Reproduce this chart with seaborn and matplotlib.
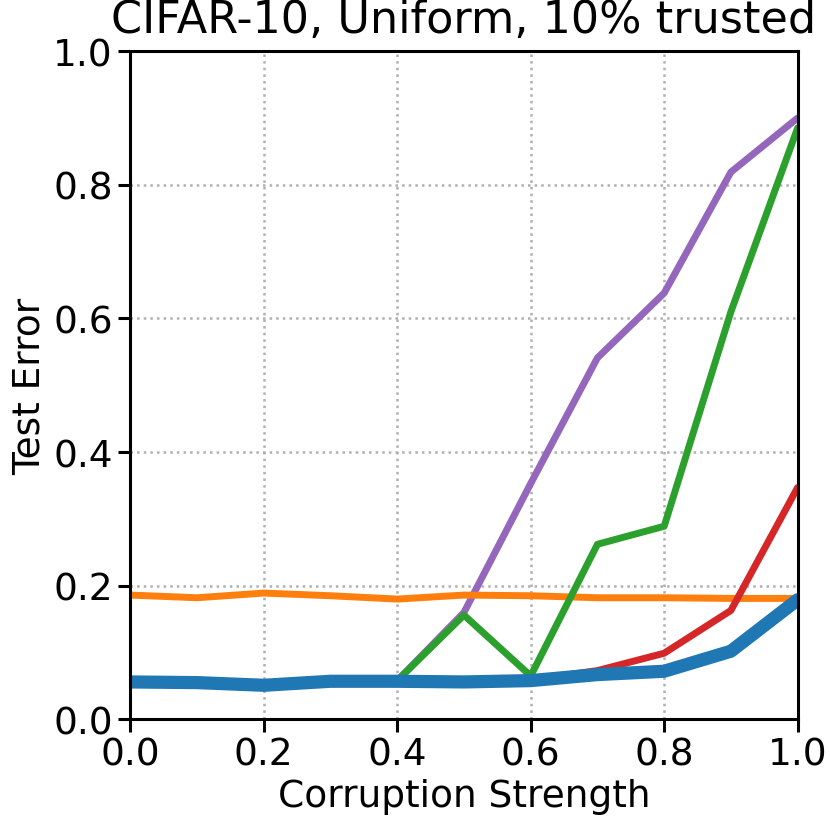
import numpy as np
import pandas as pd
import matplotlib
matplotlib.use("Agg")
import matplotlib.pyplot as plt
import seaborn as sns

strength = [0.0, 0.1, 0.2, 0.3, 0.4, 0.5, 0.6, 0.7, 0.8, 0.9, 1.0]

err_purple = [0.056, 0.055, 0.052, 0.056, 0.058, 0.160, 0.353, 0.541, 0.638, 0.819, 0.900]
err_orange = [0.186, 0.182, 0.189, 0.185, 0.180, 0.186, 0.185, 0.182, 0.182, 0.181, 0.181]
err_green = [0.056, 0.055, 0.052, 0.056, 0.058, 0.156, 0.065, 0.262, 0.289, 0.610, 0.885]
err_red = [0.056, 0.055, 0.051, 0.055, 0.057, 0.056, 0.059, 0.073, 0.099, 0.163, 0.347]
err_blue = [0.056, 0.055, 0.051, 0.057, 0.057, 0.056, 0.058, 0.067, 0.072, 0.102, 0.179]

sns.set_style("white")
plt.rcParams['font.family'] = ['DejaVu Sans']
plt.rcParams['text.color'] = 'black'
plt.rcParams['axes.labelcolor'] = 'black'
plt.rcParams['xtick.color'] = 'black'
plt.rcParams['ytick.color'] = 'black'

fig = plt.figure(figsize=(8.3, 8.28), dpi=100)
ax = fig.add_axes([0.157, 0.130, 0.804, 0.807])

series = [(err_purple, 'tab:purple', 5.0),
          (err_orange, 'tab:orange', 5.0),
          (err_green, 'tab:green', 5.0),
          (err_red, 'tab:red', 5.0),
          (err_blue, 'tab:blue', 9.5)]
for vals, col, lw in series:
    df = pd.DataFrame({'x': strength, 'y': vals})
    sns.lineplot(x='x', y='y', data=df, color=col, linewidth=lw, ax=ax)

ax.set_xlim(0, 1)
ax.set_ylim(0, 1)
ax.set_xticks(np.arange(0, 1.01, 0.2))
ax.set_yticks(np.arange(0, 1.01, 0.2))
ax.grid(True, linestyle=':', color='#b0b0b0', linewidth=1.8)
for s in ax.spines.values():
    s.set_color('black')
    s.set_linewidth(2.2)
ax.tick_params(axis='both', direction='out', length=9, width=2.2, labelsize=27, color='black',
               labelcolor='black', bottom=True, left=True)
ax.set_xlabel('Corruption Strength', fontsize=27, color='black')
ax.set_ylabel('Test Error', fontsize=27, color='black')
ax.set_title('CIFAR-10, Uniform, 10% trusted', fontsize=32, pad=14, color='black')

fig.savefig('out.png', dpi=100)
